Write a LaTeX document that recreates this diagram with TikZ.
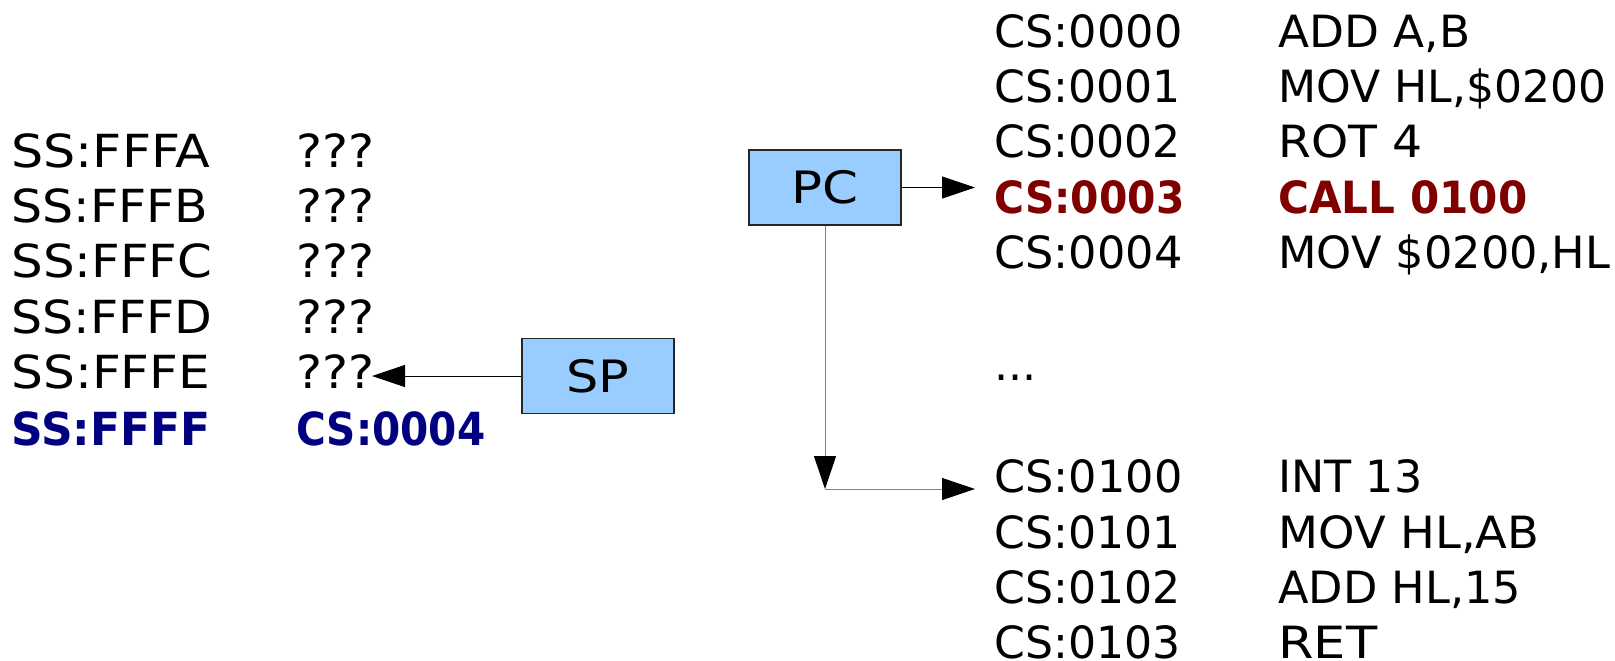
\documentclass[tikz,border=0pt]{standalone}
\usepackage{fontspec}
\setmainfont{DejaVu Sans}
\usetikzlibrary{arrows.meta}
\definecolor{stackblue}{HTML}{000080}
\definecolor{codered}{HTML}{800000}
\definecolor{regfill}{HTML}{99CCFF}
\definecolor{wiregray}{HTML}{808080}
% set a label at a fixed width (pt), keeping its height
\newcommand\fitw[2]{\resizebox{#1pt}{\height}{#2}}

\begin{document}
\begin{tikzpicture}[x=0.5pt,y=-0.5pt,
  stacktxt/.style={anchor=base west, inner sep=0pt, font=\fontsize{22.8}{27}\selectfont},
  codetxt/.style={anchor=base west, inner sep=0pt, font=\fontsize{22.2}{27}\selectfont},
  register/.style={draw=black!85, line width=0.75pt, fill=regfill,
    minimum width=76pt, minimum height=37.5pt, inner sep=0pt,
    font=\fontsize{22.3}{27}\selectfont},
  link/.style={line width=0.5pt, -{Triangle[length=16.5pt,width=11pt,color=black]}}]

\useasboundingbox (0,0) rectangle (1615,660);

% stack segment
\node[stacktxt] (s1) at (11,167) {\fitw{99.5}{SS:FFFA}};
\node[stacktxt] (s2) at (11,222) {\fitw{98.5}{SS:FFFB}};
\node[stacktxt] (s3) at (11,277) {\fitw{100.5}{SS:FFFC}};
\node[stacktxt] (s4) at (11,333) {\fitw{100.5}{SS:FFFD}};
\node[stacktxt] (s5) at (11,388) {\fitw{99.5}{SS:FFFE}};
\node[stacktxt, text=stackblue] (s6) at (11,445) {\fitw{99.5}{\bfseries SS:FFFF}};

\node[stacktxt] (v1) at (296,167) {\fitw{39}{???}};
\node[stacktxt] (v2) at (296,222) {\fitw{39}{???}};
\node[stacktxt] (v3) at (296,277) {\fitw{39}{???}};
\node[stacktxt] (v4) at (296,333) {\fitw{39}{???}};
\node[stacktxt] (v5) at (296,388) {\fitw{39}{???}};
\node[stacktxt, text=stackblue] (v6) at (296,445) {\fitw{94.5}{\bfseries CS:0004}};

% code segment
\node[codetxt] (c1) at (994,47)  {\fitw{94}{CS:0000}};
\node[codetxt] (c2) at (994,102) {\fitw{93}{CS:0001}};
\node[codetxt] (c3) at (994,157) {\fitw{93}{CS:0002}};
\node[codetxt, text=codered] (c4) at (994,213) {\fitw{95}{\bfseries CS:0003}};
\node[codetxt] (c5) at (994,268) {\fitw{94}{CS:0004}};

\node[codetxt] (i1) at (1278,47)  {\fitw{96}{ADD A,B}};
\node[codetxt] (i2) at (1278,102) {\fitw{164}{MOV HL,\$0200}};
\node[codetxt] (i3) at (1278,157) {\fitw{72}{ROT 4}};
\node[codetxt, text=codered] (i4) at (1278,213) {\fitw{124.5}{\bfseries CALL 0100}};
\node[codetxt] (i5) at (1278,268) {\fitw{166}{MOV \$0200,HL}};

\node[codetxt] (gap) at (994,380) {...};

\node[codetxt] (d1) at (994,492) {\fitw{94}{CS:0100}};
\node[codetxt] (d2) at (994,548) {\fitw{93}{CS:0101}};
\node[codetxt] (d3) at (994,603) {\fitw{93}{CS:0102}};
\node[codetxt] (d4) at (994,658) {\fitw{93}{CS:0103}};

\node[codetxt] (e1) at (1278,492) {\fitw{72}{INT 13}};
\node[codetxt] (e2) at (1278,548) {\fitw{130.5}{MOV HL,AB}};
\node[codetxt] (e3) at (1278,603) {\fitw{121.5}{ADD HL,15}};
\node[codetxt] (e4) at (1278,658) {\fitw{49.5}{RET}};

% registers
\node[register] (pc) at (825,187.5) {\fitw{33.5}{PC}};
\node[register] (sp) at (598,376) {\fitw{31.5}{SP}};

% pointer ends
\coordinate (pctip) at (975,187.5);
\coordinate (bend) at (825,489);
\coordinate (calltip) at (975,489);
\coordinate (sptip) at (372,376);

% connectors
\draw[link] (pc.east) -- (pctip);
\draw[link, draw=wiregray] (pc.south) -- (bend);
\draw[link, draw=wiregray] (bend) -- (calltip);
\draw[link] (sp.west) -- (sptip);

\end{tikzpicture}
\end{document}
